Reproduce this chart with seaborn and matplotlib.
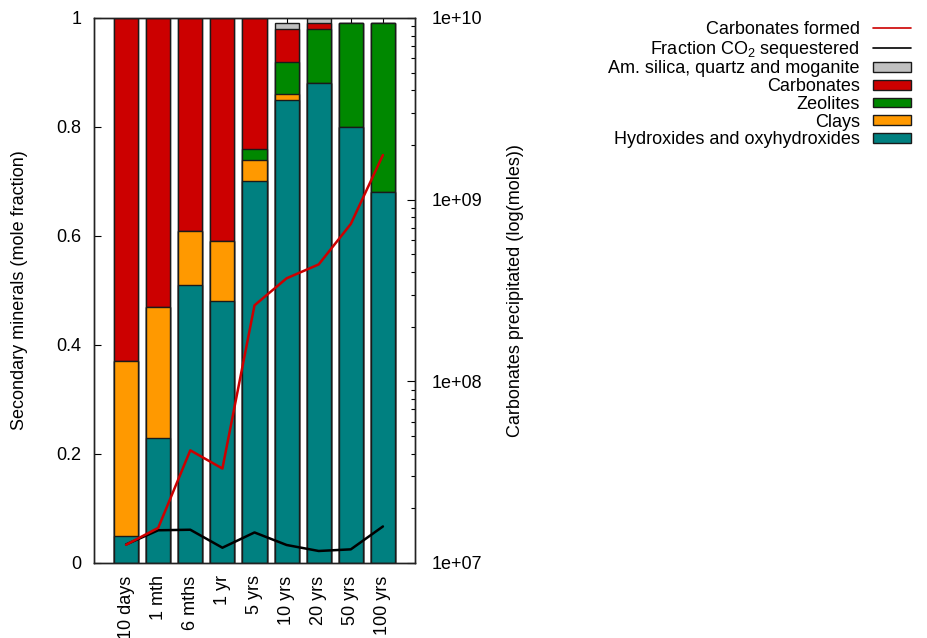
import numpy as np
import matplotlib
matplotlib.use("Agg")
import matplotlib.pyplot as plt
import seaborn as sns
from matplotlib.lines import Line2D
from matplotlib.patches import Patch
from matplotlib.ticker import FuncFormatter, LogLocator, FixedLocator

# ─────────────────────────────────────────────
# Data
# ─────────────────────────────────────────────

periods = ["10 days", "1 mth", "6 mths", "1 yr", "5 yrs",
           "10 yrs", "20 yrs", "50 yrs", "100 yrs"]

# mole fractions of secondary minerals, stacked bottom -> top
hydroxides = [0.05, 0.23, 0.51, 0.48, 0.70, 0.85, 0.88, 0.80, 0.68]
clays      = [0.32, 0.24, 0.10, 0.11, 0.04, 0.01, 0.00, 0.00, 0.00]
zeolites   = [0.00, 0.00, 0.00, 0.00, 0.02, 0.06, 0.10, 0.19, 0.31]
carbonates = [0.63, 0.53, 0.39, 0.41, 0.24, 0.06, 0.01, 0.00, 0.00]
silica     = [0.00, 0.00, 0.00, 0.00, 0.00, 0.01, 0.01, 0.00, 0.00]

# carbonates precipitated (moles, right log axis)
carb_formed = [1.26e7, 1.56e7, 4.17e7, 3.31e7, 2.62e8, 3.69e8, 4.4e8, 7.35e8, 1.76e9]
# fraction of CO2 sequestered (left axis)
co2_fraction = [0.034, 0.060, 0.061, 0.028, 0.056, 0.033, 0.022, 0.025, 0.067]

layer_names = ["Hydroxides and oxyhydroxides", "Clays", "Zeolites",
               "Carbonates", "Am. silica, quartz and moganite"]
layer_colors = ["#008080", "#FF9900", "#008800", "#CC0000", "#C0C0C0"]

# ─────────────────────────────────────────────
# Style
# ─────────────────────────────────────────────

sns.set_theme(style="ticks")
plt.rcParams['font.family'] = ['Liberation Sans', 'DejaVu Sans']
plt.rcParams['mathtext.fontset'] = 'custom'
plt.rcParams['mathtext.rm'] = 'Liberation Sans'
plt.rcParams['mathtext.it'] = 'Liberation Sans:italic'
for key in ['text.color', 'axes.labelcolor', 'xtick.color', 'ytick.color']:
    plt.rcParams[key] = 'black'
FS = 13

fig = plt.figure(figsize=(9.27, 6.38), dpi=100)
ax = fig.add_axes([0.1014, 0.1176, 0.3463, 0.8542])

pos = np.arange(len(periods))
layers = [hydroxides, clays, zeolites, carbonates, silica]
cum = np.cumsum(np.array(layers), axis=0)

# draw cumulative bars from the top layer down so lower layers sit on top
for i in range(len(layers) - 1, -1, -1):
    sns.barplot(x=pos, y=cum[i], native_scale=True, orient="x", width=0.75,
                color=layer_colors[i], saturation=1, edgecolor="#1a1a1a",
                linewidth=1.0, ax=ax)

sns.lineplot(x=pos, y=co2_fraction, color="black", linewidth=1.8,
             ax=ax, zorder=5)

ax.set_xlim(-1, len(periods))
ax.set_ylim(0, 1)
ax.set_xticks(pos)
ax.set_xticklabels(periods, rotation=90, fontsize=FS)
ax.set_yticks([0, 0.2, 0.4, 0.6, 0.8, 1.0])
ax.yaxis.set_major_formatter(FuncFormatter(lambda v, _: f"{v:g}"))
ax.tick_params(axis='y', direction='in', length=5, width=0.8, pad=9,
               labelsize=FS, left=True, right=False)
ax.tick_params(axis='x', direction='in', length=5, width=0.8, pad=9,
               labelsize=FS, top=True, bottom=True)
ax.set_ylabel("Secondary minerals (mole fraction)", fontsize=FS)
ax.yaxis.set_label_coords(-0.205, 0.5)
ax.set_xlabel("")
for sp in ax.spines.values():
    sp.set_linewidth(1.0)
    sp.set_color("#222222")

# right log axis
ax2 = ax.twinx()
sns.lineplot(x=pos, y=carb_formed, color="#CC0000", linewidth=1.8, ax=ax2)
ax2.set_yscale('log')
ax2.set_ylim(1e7, 1e10)
ax2.yaxis.set_major_locator(FixedLocator([1e7, 1e8, 1e9, 1e10]))
ax2.yaxis.set_minor_locator(LogLocator(base=10, subs=np.arange(2, 10)))
ax2.yaxis.set_major_formatter(FuncFormatter(lambda v, _: f"{v:.0e}"))
ax2.tick_params(axis='y', which='major', direction='in', length=6, width=0.8,
                pad=12, labelsize=FS)
ax2.tick_params(axis='y', which='minor', direction='in', length=3, width=0.8)
ax2.set_ylabel("Carbonates precipitated (log(moles))", fontsize=FS)
ax2.yaxis.set_label_coords(1.285, 0.5)
ax2.set_xlabel("")
for sp in ax2.spines.values():
    sp.set_linewidth(1.0)
    sp.set_color("#222222")

# legend, text right-aligned before the key
handles = [Line2D([], [], color="#CC0000", linewidth=1.2),
           Line2D([], [], color="black", linewidth=1.2)]
labels = ["Carbonates formed", "Fraction CO$_2$ sequestered"]
for name, col in zip(layer_names[::-1], layer_colors[::-1]):
    handles.append(Patch(facecolor=col, edgecolor="#1a1a1a", linewidth=1.0))
    labels.append(name)
fig.legend(handles, labels, loc="upper right", bbox_to_anchor=(0.983, 0.967),
           frameon=False, markerfirst=False, fontsize=FS, handlelength=2.1,
           handleheight=0.45, handletextpad=0.75, labelspacing=0.04,
           borderpad=0, borderaxespad=0)

fig.savefig("out.png", dpi=100)
